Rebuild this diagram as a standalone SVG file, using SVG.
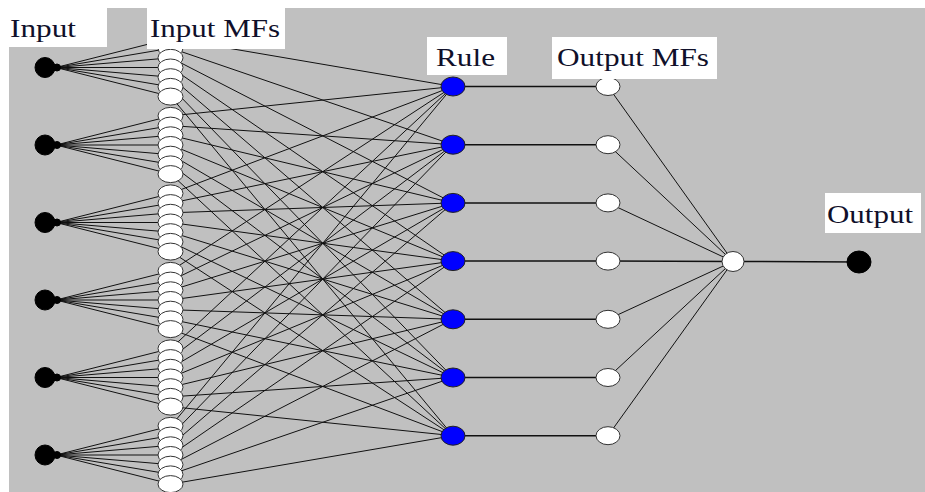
<svg xmlns="http://www.w3.org/2000/svg" width="925" height="492" viewBox="0 0 925 492">
<style>
.ln{stroke:#111;stroke-width:1;fill:none}
.lh{stroke:#111;stroke-width:1.5;fill:none}
.in{fill:#000;stroke:#000;stroke-width:1}
.mf{fill:#fff;stroke:#333;stroke-width:1}
.rule{fill:#0000ff;stroke:#222;stroke-width:1}
.omf{fill:#fff;stroke:#333;stroke-width:1}
.lbl{fill:#fff}
.t{font-family:"Liberation Serif","Times New Roman",serif;font-size:25px;fill:#10102a}
</style>
<rect x="0" y="0" width="925" height="492" fill="#fff"/>
<rect x="9" y="8" width="916" height="484" fill="#c0c0c0"/>

<g id="connectors">
<!-- inputs to input MFs -->
<g id="in-mf">
<line class="ln" x1="56" y1="67.5" x2="171" y2="38.4"/><line class="ln" x1="56" y1="67.5" x2="171" y2="48.1"/><line class="ln" x1="56" y1="67.5" x2="171" y2="57.8"/><line class="ln" x1="56" y1="67.5" x2="171" y2="67.5"/><line class="ln" x1="56" y1="67.5" x2="171" y2="77.2"/><line class="ln" x1="56" y1="67.5" x2="171" y2="86.9"/><line class="ln" x1="56" y1="67.5" x2="171" y2="96.6"/>
<line class="ln" x1="56" y1="145" x2="171" y2="115.9"/><line class="ln" x1="56" y1="145" x2="171" y2="125.6"/><line class="ln" x1="56" y1="145" x2="171" y2="135.3"/><line class="ln" x1="56" y1="145" x2="171" y2="145"/><line class="ln" x1="56" y1="145" x2="171" y2="154.7"/><line class="ln" x1="56" y1="145" x2="171" y2="164.4"/><line class="ln" x1="56" y1="145" x2="171" y2="174.1"/>
<line class="ln" x1="56" y1="222.5" x2="171" y2="193.4"/><line class="ln" x1="56" y1="222.5" x2="171" y2="203.1"/><line class="ln" x1="56" y1="222.5" x2="171" y2="212.8"/><line class="ln" x1="56" y1="222.5" x2="171" y2="222.5"/><line class="ln" x1="56" y1="222.5" x2="171" y2="232.2"/><line class="ln" x1="56" y1="222.5" x2="171" y2="241.9"/><line class="ln" x1="56" y1="222.5" x2="171" y2="251.6"/>
<line class="ln" x1="56" y1="300" x2="171" y2="270.9"/><line class="ln" x1="56" y1="300" x2="171" y2="280.6"/><line class="ln" x1="56" y1="300" x2="171" y2="290.3"/><line class="ln" x1="56" y1="300" x2="171" y2="300"/><line class="ln" x1="56" y1="300" x2="171" y2="309.7"/><line class="ln" x1="56" y1="300" x2="171" y2="319.4"/><line class="ln" x1="56" y1="300" x2="171" y2="329.1"/>
<line class="ln" x1="56" y1="377.5" x2="171" y2="348.4"/><line class="ln" x1="56" y1="377.5" x2="171" y2="358.1"/><line class="ln" x1="56" y1="377.5" x2="171" y2="367.8"/><line class="ln" x1="56" y1="377.5" x2="171" y2="377.5"/><line class="ln" x1="56" y1="377.5" x2="171" y2="387.2"/><line class="ln" x1="56" y1="377.5" x2="171" y2="396.9"/><line class="ln" x1="56" y1="377.5" x2="171" y2="406.6"/>
<line class="ln" x1="56" y1="455" x2="171" y2="425.9"/><line class="ln" x1="56" y1="455" x2="171" y2="435.6"/><line class="ln" x1="56" y1="455" x2="171" y2="445.3"/><line class="ln" x1="56" y1="455" x2="171" y2="455"/><line class="ln" x1="56" y1="455" x2="171" y2="464.7"/><line class="ln" x1="56" y1="455" x2="171" y2="474.4"/><line class="ln" x1="56" y1="455" x2="171" y2="484.1"/>
</g>
<!-- input MFs to rules -->
<g id="mf-rule">
<line class="ln" x1="171" y1="38.4" x2="453" y2="86.5"/><line class="ln" x1="171" y1="48.1" x2="453" y2="144.7"/><line class="ln" x1="171" y1="57.8" x2="453" y2="202.9"/><line class="ln" x1="171" y1="67.5" x2="453" y2="261.1"/><line class="ln" x1="171" y1="77.2" x2="453" y2="319.3"/><line class="ln" x1="171" y1="86.9" x2="453" y2="377.5"/><line class="ln" x1="171" y1="96.6" x2="453" y2="435.7"/>
<line class="ln" x1="171" y1="115.9" x2="453" y2="86.5"/><line class="ln" x1="171" y1="125.6" x2="453" y2="144.7"/><line class="ln" x1="171" y1="135.3" x2="453" y2="202.9"/><line class="ln" x1="171" y1="145" x2="453" y2="261.1"/><line class="ln" x1="171" y1="154.7" x2="453" y2="319.3"/><line class="ln" x1="171" y1="164.4" x2="453" y2="377.5"/><line class="ln" x1="171" y1="174.1" x2="453" y2="435.7"/>
<line class="ln" x1="171" y1="193.4" x2="453" y2="86.5"/><line class="ln" x1="171" y1="203.1" x2="453" y2="144.7"/><line class="ln" x1="171" y1="212.8" x2="453" y2="202.9"/><line class="ln" x1="171" y1="222.5" x2="453" y2="261.1"/><line class="ln" x1="171" y1="232.2" x2="453" y2="319.3"/><line class="ln" x1="171" y1="241.9" x2="453" y2="377.5"/><line class="ln" x1="171" y1="251.6" x2="453" y2="435.7"/>
<line class="ln" x1="171" y1="270.9" x2="453" y2="86.5"/><line class="ln" x1="171" y1="280.6" x2="453" y2="144.7"/><line class="ln" x1="171" y1="290.3" x2="453" y2="202.9"/><line class="ln" x1="171" y1="300" x2="453" y2="261.1"/><line class="ln" x1="171" y1="309.7" x2="453" y2="319.3"/><line class="ln" x1="171" y1="319.4" x2="453" y2="377.5"/><line class="ln" x1="171" y1="329.1" x2="453" y2="435.7"/>
<line class="ln" x1="171" y1="348.4" x2="453" y2="86.5"/><line class="ln" x1="171" y1="358.1" x2="453" y2="144.7"/><line class="ln" x1="171" y1="367.8" x2="453" y2="202.9"/><line class="ln" x1="171" y1="377.5" x2="453" y2="261.1"/><line class="ln" x1="171" y1="387.2" x2="453" y2="319.3"/><line class="ln" x1="171" y1="396.9" x2="453" y2="377.5"/><line class="ln" x1="171" y1="406.6" x2="453" y2="435.7"/>
<line class="ln" x1="171" y1="425.9" x2="453" y2="86.5"/><line class="ln" x1="171" y1="435.6" x2="453" y2="144.7"/><line class="ln" x1="171" y1="445.3" x2="453" y2="202.9"/><line class="ln" x1="171" y1="455" x2="453" y2="261.1"/><line class="ln" x1="171" y1="464.7" x2="453" y2="319.3"/><line class="ln" x1="171" y1="474.4" x2="453" y2="377.5"/><line class="ln" x1="171" y1="484.1" x2="453" y2="435.7"/>
</g>
<!-- rules to output MFs -->
<g id="rule-omf">
<line class="lh" x1="453" y1="86.5" x2="608" y2="86.5"/><line class="lh" x1="453" y1="144.7" x2="608" y2="144.7"/><line class="lh" x1="453" y1="202.9" x2="608" y2="202.9"/><line class="lh" x1="453" y1="261.1" x2="608" y2="261.1"/><line class="lh" x1="453" y1="319.3" x2="608" y2="319.3"/><line class="lh" x1="453" y1="377.5" x2="608" y2="377.5"/><line class="lh" x1="453" y1="435.7" x2="608" y2="435.7"/>
</g>
<!-- output MFs to aggregation -->
<g id="omf-agg">
<line class="ln" x1="608" y1="86.5" x2="733" y2="261.5"/><line class="ln" x1="608" y1="144.7" x2="733" y2="261.5"/><line class="ln" x1="608" y1="202.9" x2="733" y2="261.5"/><line class="lh" x1="608" y1="261.1" x2="733" y2="261.5"/><line class="ln" x1="608" y1="319.3" x2="733" y2="261.5"/><line class="ln" x1="608" y1="377.5" x2="733" y2="261.5"/><line class="ln" x1="608" y1="435.7" x2="733" y2="261.5"/>
</g>
<line id="agg-out" class="lh" x1="733" y1="261.5" x2="859" y2="262"/>
</g>

<g id="inputs">
<g id="input1"><circle class="in" cx="45" cy="67.5" r="10"/><circle class="in" cx="57" cy="67.5" r="3.5"/></g>
<g id="input2"><circle class="in" cx="45" cy="145" r="10"/><circle class="in" cx="57" cy="145" r="3.5"/></g>
<g id="input3"><circle class="in" cx="45" cy="222.5" r="10"/><circle class="in" cx="57" cy="222.5" r="3.5"/></g>
<g id="input4"><circle class="in" cx="45" cy="300" r="10"/><circle class="in" cx="57" cy="300" r="3.5"/></g>
<g id="input5"><circle class="in" cx="45" cy="377.5" r="10"/><circle class="in" cx="57" cy="377.5" r="3.5"/></g>
<g id="input6"><circle class="in" cx="45" cy="455" r="10"/><circle class="in" cx="57" cy="455" r="3.5"/></g>
</g>

<g id="input-mfs">
<g id="mf1-1"><ellipse class="mf" cx="170.5" cy="38.4" rx="12.5" ry="8.5"/></g>
<g id="mf1-2"><ellipse class="mf" cx="170.5" cy="48.1" rx="12.5" ry="8.5"/></g>
<g id="mf1-3"><ellipse class="mf" cx="170.5" cy="57.8" rx="12.5" ry="8.5"/></g>
<g id="mf1-4"><ellipse class="mf" cx="170.5" cy="67.5" rx="12.5" ry="8.5"/></g>
<g id="mf1-5"><ellipse class="mf" cx="170.5" cy="77.2" rx="12.5" ry="8.5"/></g>
<g id="mf1-6"><ellipse class="mf" cx="170.5" cy="86.9" rx="12.5" ry="8.5"/></g>
<g id="mf1-7"><ellipse class="mf" cx="170.5" cy="96.6" rx="12.5" ry="8.5"/></g>
<g id="mf2-1"><ellipse class="mf" cx="170.5" cy="115.9" rx="12.5" ry="8.5"/></g>
<g id="mf2-2"><ellipse class="mf" cx="170.5" cy="125.6" rx="12.5" ry="8.5"/></g>
<g id="mf2-3"><ellipse class="mf" cx="170.5" cy="135.3" rx="12.5" ry="8.5"/></g>
<g id="mf2-4"><ellipse class="mf" cx="170.5" cy="145" rx="12.5" ry="8.5"/></g>
<g id="mf2-5"><ellipse class="mf" cx="170.5" cy="154.7" rx="12.5" ry="8.5"/></g>
<g id="mf2-6"><ellipse class="mf" cx="170.5" cy="164.4" rx="12.5" ry="8.5"/></g>
<g id="mf2-7"><ellipse class="mf" cx="170.5" cy="174.1" rx="12.5" ry="8.5"/></g>
<g id="mf3-1"><ellipse class="mf" cx="170.5" cy="193.4" rx="12.5" ry="8.5"/></g>
<g id="mf3-2"><ellipse class="mf" cx="170.5" cy="203.1" rx="12.5" ry="8.5"/></g>
<g id="mf3-3"><ellipse class="mf" cx="170.5" cy="212.8" rx="12.5" ry="8.5"/></g>
<g id="mf3-4"><ellipse class="mf" cx="170.5" cy="222.5" rx="12.5" ry="8.5"/></g>
<g id="mf3-5"><ellipse class="mf" cx="170.5" cy="232.2" rx="12.5" ry="8.5"/></g>
<g id="mf3-6"><ellipse class="mf" cx="170.5" cy="241.9" rx="12.5" ry="8.5"/></g>
<g id="mf3-7"><ellipse class="mf" cx="170.5" cy="251.6" rx="12.5" ry="8.5"/></g>
<g id="mf4-1"><ellipse class="mf" cx="170.5" cy="270.9" rx="12.5" ry="8.5"/></g>
<g id="mf4-2"><ellipse class="mf" cx="170.5" cy="280.6" rx="12.5" ry="8.5"/></g>
<g id="mf4-3"><ellipse class="mf" cx="170.5" cy="290.3" rx="12.5" ry="8.5"/></g>
<g id="mf4-4"><ellipse class="mf" cx="170.5" cy="300" rx="12.5" ry="8.5"/></g>
<g id="mf4-5"><ellipse class="mf" cx="170.5" cy="309.7" rx="12.5" ry="8.5"/></g>
<g id="mf4-6"><ellipse class="mf" cx="170.5" cy="319.4" rx="12.5" ry="8.5"/></g>
<g id="mf4-7"><ellipse class="mf" cx="170.5" cy="329.1" rx="12.5" ry="8.5"/></g>
<g id="mf5-1"><ellipse class="mf" cx="170.5" cy="348.4" rx="12.5" ry="8.5"/></g>
<g id="mf5-2"><ellipse class="mf" cx="170.5" cy="358.1" rx="12.5" ry="8.5"/></g>
<g id="mf5-3"><ellipse class="mf" cx="170.5" cy="367.8" rx="12.5" ry="8.5"/></g>
<g id="mf5-4"><ellipse class="mf" cx="170.5" cy="377.5" rx="12.5" ry="8.5"/></g>
<g id="mf5-5"><ellipse class="mf" cx="170.5" cy="387.2" rx="12.5" ry="8.5"/></g>
<g id="mf5-6"><ellipse class="mf" cx="170.5" cy="396.9" rx="12.5" ry="8.5"/></g>
<g id="mf5-7"><ellipse class="mf" cx="170.5" cy="406.6" rx="12.5" ry="8.5"/></g>
<g id="mf6-1"><ellipse class="mf" cx="170.5" cy="425.9" rx="12.5" ry="8.5"/></g>
<g id="mf6-2"><ellipse class="mf" cx="170.5" cy="435.6" rx="12.5" ry="8.5"/></g>
<g id="mf6-3"><ellipse class="mf" cx="170.5" cy="445.3" rx="12.5" ry="8.5"/></g>
<g id="mf6-4"><ellipse class="mf" cx="170.5" cy="455" rx="12.5" ry="8.5"/></g>
<g id="mf6-5"><ellipse class="mf" cx="170.5" cy="464.7" rx="12.5" ry="8.5"/></g>
<g id="mf6-6"><ellipse class="mf" cx="170.5" cy="474.4" rx="12.5" ry="8.5"/></g>
<g id="mf6-7"><ellipse class="mf" cx="170.5" cy="484.1" rx="12.5" ry="8.5"/></g>
</g>

<g id="rules">
<g id="rule1"><ellipse class="rule" cx="453" cy="86.5" rx="12" ry="9.5"/></g>
<g id="rule2"><ellipse class="rule" cx="453" cy="144.7" rx="12" ry="9.5"/></g>
<g id="rule3"><ellipse class="rule" cx="453" cy="202.9" rx="12" ry="9.5"/></g>
<g id="rule4"><ellipse class="rule" cx="453" cy="261.1" rx="12" ry="9.5"/></g>
<g id="rule5"><ellipse class="rule" cx="453" cy="319.3" rx="12" ry="9.5"/></g>
<g id="rule6"><ellipse class="rule" cx="453" cy="377.5" rx="12" ry="9.5"/></g>
<g id="rule7"><ellipse class="rule" cx="453" cy="435.7" rx="12" ry="9.5"/></g>
</g>

<g id="output-mfs">
<g id="omf1"><ellipse class="omf" cx="608" cy="86.5" rx="12" ry="9"/></g>
<g id="omf2"><ellipse class="omf" cx="608" cy="144.7" rx="12" ry="9"/></g>
<g id="omf3"><ellipse class="omf" cx="608" cy="202.9" rx="12" ry="9"/></g>
<g id="omf4"><ellipse class="omf" cx="608" cy="261.1" rx="12" ry="9"/></g>
<g id="omf5"><ellipse class="omf" cx="608" cy="319.3" rx="12" ry="9"/></g>
<g id="omf6"><ellipse class="omf" cx="608" cy="377.5" rx="12" ry="9"/></g>
<g id="omf7"><ellipse class="omf" cx="608" cy="435.7" rx="12" ry="9"/></g>
</g>

<g id="aggregate"><ellipse class="omf" cx="733" cy="261.5" rx="11" ry="10"/></g>
<g id="output"><ellipse class="in" cx="859" cy="262" rx="12" ry="11"/></g>

<g id="labels">
<g id="label-input"><rect class="lbl" x="0" y="0" width="107" height="47"/><text class="t" x="10" y="37" textLength="66" lengthAdjust="spacingAndGlyphs">Input</text></g>
<g id="label-inputmfs"><rect class="lbl" x="147" y="8" width="138" height="41"/><text class="t" x="150" y="37" textLength="130" lengthAdjust="spacingAndGlyphs">Input MFs</text></g>
<g id="label-rule"><rect class="lbl" x="427" y="37" width="80" height="38"/><text class="t" x="436" y="66" textLength="59" lengthAdjust="spacingAndGlyphs">Rule</text></g>
<g id="label-outputmfs"><rect class="lbl" x="552" y="37" width="165" height="42"/><text class="t" x="557" y="66" textLength="152" lengthAdjust="spacingAndGlyphs">Output MFs</text></g>
<g id="label-output"><rect class="lbl" x="825" y="193" width="96" height="40"/><text class="t" x="827" y="223" textLength="86" lengthAdjust="spacingAndGlyphs">Output</text></g>
</g>
</svg>
